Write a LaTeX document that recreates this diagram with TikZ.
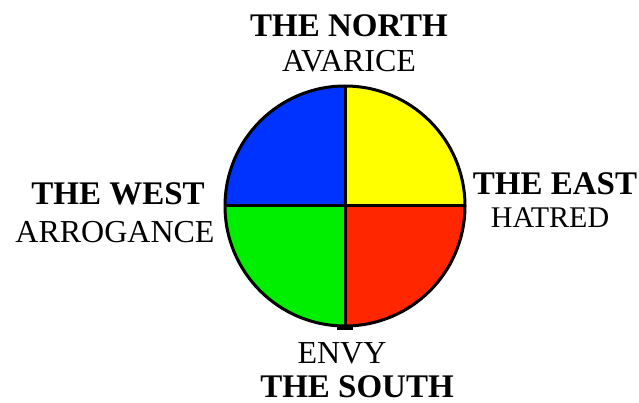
\documentclass[tikz,border=0pt]{standalone}
\usepackage{fontspec}
\usetikzlibrary{calc}
\setmainfont{Liberation Serif}
\definecolor{qblue}{RGB}{0,51,255}
\definecolor{qyellow}{RGB}{255,255,0}
\definecolor{qgreen}{RGB}{0,238,0}
\definecolor{qred}{RGB}{255,38,0}
\begin{document}
\begin{tikzpicture}[x=1pt,y=-1pt,
  head/.style={font=\fontsize{33}{33}\selectfont\bfseries, inner sep=0pt, anchor=base},
  vice/.style={font=\fontsize{32}{32}\selectfont, inner sep=0pt, anchor=base},
  rim/.style={draw=black, line width=3pt},
  cross/.style={draw=black, line width=3pt}]
\useasboundingbox (0,0) rectangle (639,403);
\coordinate (c) at (345,206);
\coordinate (n) at (345,86);
\coordinate (s) at (345,326);
\coordinate (w) at (225,206);
\coordinate (e) at (465,206);
\begin{scope}
  \clip (c) circle[radius=120];
  \fill[qblue] (w |- n) rectangle (c);
  \fill[qyellow] (e |- n) rectangle (c);
  \fill[qgreen] (w |- s) rectangle (c);
  \fill[qred] (e |- s) rectangle (c);
\end{scope}
\draw[rim] (c) circle[radius=120];
\draw[cross] (n) -- (s);
\draw[cross] (w) -- (e);
\draw[line width=5pt] ($(s)+(-8,1)$) -- ($(s)+(8,1)$);
\node[head] (north) at (349,37) {THE NORTH};
\node[vice] (avarice) at (349,72) {AVARICE};
\node[head] (west) at (118,205) {THE WEST};
\node[vice] (arrogance) at (115,243) {ARROGANCE};
\node[head] (east) at (555,195) {THE EAST};
\node[vice, font=\fontsize{30}{30}\selectfont] (hatred) at (550,228) {HATRED};
\node[vice] (envy) at (342,363) {ENVY};
\node[head] (south) at (357,397) {THE SOUTH};
\end{tikzpicture}
\end{document}
